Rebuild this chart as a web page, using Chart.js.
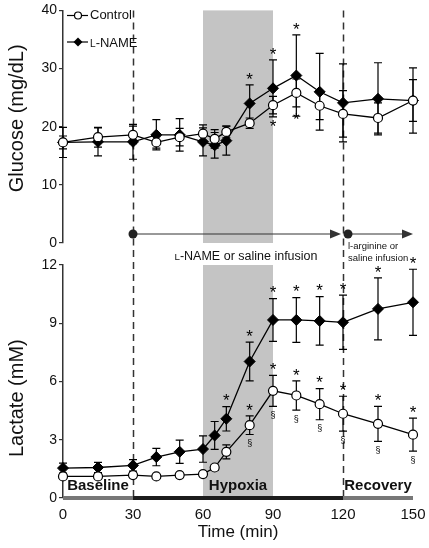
<!DOCTYPE html>
<html lang="en">
<head>
<meta charset="UTF-8">
<title>Glucose and lactate during hypoxia</title>
<script src="https://cdn.jsdelivr.net/npm/chart.js"></script>
<style>
  body { margin: 0; background: #fff; }
  #wrap { position: relative; width: 429px; height: 548px; }
  canvas { position: absolute; left: 0; }
</style>
</head>
<body>
<div id="wrap">
  <canvas id="glucose" width="429" height="270" style="top:0"></canvas>
  <canvas id="lactate" width="429" height="298" style="top:250px"></canvas>
</div>
<script>
// sampling times (min)
const times = [0, 15, 30, 40, 50, 60, 65, 70, 80, 90, 100, 110, 120, 135, 150];

// glucose (mg/dL), mean and SEM
const glucoseControl    = [17.3, 18.2, 18.6, 17.3, 18.2, 18.8, 17.9, 19.1, 20.6, 23.7, 25.8, 23.6, 22.2, 21.5, 24.5];
const glucoseControlSem = [1.1, 1.7, 1.5, 1.0, 1.5, 1.5, 1.6, 1.0, 0.9, 1.5, 2.4, 2.4, 4.0, 2.6, 3.6];
const glucoseLname      = [17.3, 17.4, 17.4, 18.6, 18.6, 17.4, 16.8, 17.6, 24.0, 26.6, 28.8, 26.0, 24.1, 24.8, 24.5];
const glucoseLnameSem   = [2.6, 2.4, 3.0, 2.6, 2.8, 2.4, 2.2, 2.5, 3.2, 4.9, 7.0, 6.6, 6.7, 6.2, 5.6];

// lactate (mM), mean and SEM
const lactateControl    = [1.11, 1.11, 1.18, 1.11, 1.18, 1.23, 1.57, 2.38, 3.75, 5.52, 5.28, 4.83, 4.34, 3.82, 3.26];
const lactateControlSem = [0.1, 0.1, 0.1, 0.08, 0.1, 0.1, 0.15, 0.36, 0.48, 0.8, 0.75, 0.8, 0.9, 0.9, 0.85];
const lactateLname      = [1.54, 1.57, 1.68, 2.11, 2.38, 2.52, 3.22, 4.08, 7.03, 9.17, 9.17, 9.12, 9.05, 9.74, 10.08];
const lactateLnameSem   = [0.26, 0.26, 0.3, 0.45, 0.6, 0.68, 0.72, 0.63, 1.0, 1.1, 1.15, 1.25, 1.4, 1.6, 1.7];

// significance marks (times where they appear)
const glucoseStarLname    = [80, 90, 100];
const glucoseStarControl  = [90, 100];
const lactateStarLname    = [70, 80, 90, 100, 110, 120, 135, 150];
const lactateStarControl  = [80, 90, 100, 110, 120, 135, 150];
const lactateSectControl  = [80, 90, 100, 110, 120, 135, 150];

// axes
const xTicks = [0, 30, 60, 90, 120, 150];
const glucoseTicks = [0, 10, 20, 30, 40];
const lactateTicks = [0, 3, 6, 9, 12];

// protocol
const hypoxia = [60, 90];
const infusionTimes = [30, 120, 150];
const phaseNames = ['Baseline', 'Hypoxia', 'Recovery'];
const phaseRanges = [[0, 30], [60, 90], [120, 150]];
const barBounds = [0, 30, 120, 150];

const FONT = '"Liberation Sans", Arial, Helvetica, sans-serif';

function pts(ys) {
  return times.map((t, i) => ({ x: t, y: ys[i] }));
}

const controlStyle = {
  label: 'Control', borderColor: '#000', borderWidth: 1.3,
  pointStyle: 'circle', pointRadius: 4.5, pointBackgroundColor: '#fff',
  pointBorderColor: '#000', pointBorderWidth: 1.2, clip: false
};
const lnameStyle = {
  label: 'L-NAME', borderColor: '#000', borderWidth: 1.3,
  pointStyle: 'rectRot', pointRadius: 5.5, pointBackgroundColor: '#000',
  pointBorderColor: '#000', pointBorderWidth: 1, clip: false
};

// writes "L-NAME..." with a small capital L
function smallCapsL(ctx, rest, x, y, size, align) {
  ctx.font = (size * 0.78) + 'px ' + FONT;
  const wl = ctx.measureText('L').width;
  ctx.font = size + 'px ' + FONT;
  const wr = ctx.measureText(rest).width;
  let x0 = x;
  if (align === 'center') x0 = x - (wl + wr) / 2;
  ctx.textAlign = 'left';
  ctx.textBaseline = 'alphabetic';
  ctx.font = (size * 0.78) + 'px ' + FONT;
  ctx.fillText('L', x0, y);
  ctx.font = size + 'px ' + FONT;
  ctx.fillText(rest, x0 + wl, y);
}

function shade(chart) {
  const { ctx, chartArea: a, scales: { x } } = chart;
  ctx.save();
  ctx.fillStyle = '#c4c4c4';
  const x0 = x.getPixelForValue(hypoxia[0]), x1 = x.getPixelForValue(hypoxia[1]);
  ctx.fillRect(x0, a.top, x1 - x0, a.bottom - a.top);
  ctx.restore();
}

function dashed(chart, y0, y1) {
  const { ctx, scales: { x } } = chart;
  ctx.save();
  ctx.strokeStyle = '#333';
  ctx.lineWidth = 1.5;
  ctx.setLineDash([7, 5]);
  [infusionTimes[0], infusionTimes[1]].forEach(t => {
    const px = Math.round(x.getPixelForValue(t)) + 0.5;
    ctx.beginPath();
    ctx.moveTo(px, y0);
    ctx.lineTo(px, y1);
    ctx.stroke();
  });
  ctx.restore();
}

function errorBars(chart) {
  const { ctx, scales: { x, y } } = chart;
  ctx.save();
  ctx.strokeStyle = '#000';
  ctx.lineWidth = 1.2;
  chart.data.datasets.forEach(ds => {
    ds.data.forEach((p, i) => {
      const px = x.getPixelForValue(p.x);
      const hi = y.getPixelForValue(p.y + ds.sem[i]);
      const lo = y.getPixelForValue(p.y - ds.sem[i]);
      ctx.beginPath();
      ctx.moveTo(px, hi); ctx.lineTo(px, lo);
      ctx.moveTo(px - 4, hi); ctx.lineTo(px + 4, hi);
      ctx.moveTo(px - 4, lo); ctx.lineTo(px + 4, lo);
      ctx.stroke();
    });
  });
  ctx.restore();
}

// glyph above the upper cap or below the lower cap
function marks(chart, dsIndex, when, side, glyph) {
  const { ctx, scales: { x, y } } = chart;
  const ds = chart.data.datasets[dsIndex];
  ctx.save();
  ctx.fillStyle = '#000';
  ctx.textAlign = 'center';
  ctx.textBaseline = 'middle';
  ctx.font = glyph === '*' ? '17px ' + FONT : '9px ' + FONT;
  when.forEach(t => {
    const i = times.indexOf(t);
    const px = x.getPixelForValue(t);
    let py;
    if (side === 'above') py = y.getPixelForValue(ds.data[i].y + ds.sem[i]) - 9;
    else py = y.getPixelForValue(ds.data[i].y - ds.sem[i]) + 9;
    // asterisk sits high in the em box
    const dy = glyph === '*' ? 4 : 0;
    ctx.fillText(glyph, px, py + dy);
  });
  ctx.restore();
}

function yAxis(ticks, max, title) {
  return {
    type: 'linear', min: 0, max: max,
    afterBuildTicks: s => { s.ticks = ticks.map(v => ({ value: v })); },
    afterFit: s => { s.width = 63; },
    grid: { drawOnChartArea: false, drawTicks: true, tickLength: 4, color: '#333', lineWidth: 1.2 },
    border: { display: true, color: '#333', width: 1.5 },
    ticks: { color: '#111', padding: 2, font: { family: FONT, size: 14 } },
    title: { display: true, text: title, color: '#111', padding: { top: 5, bottom: 0 },
             font: { family: FONT, size: 20 } }
  };
}

const glucosePlugin = {
  id: 'glucoseExtras',
  beforeDatasetsDraw(chart) {
    shade(chart);
    dashed(chart, chart.chartArea.top, 250);
    errorBars(chart);
  },
  afterDraw(chart) {
    const { ctx, scales: { x } } = chart;
    marks(chart, 1, glucoseStarLname, 'above', '*');
    marks(chart, 0, glucoseStarControl, 'below', '*');

    // legend
    ctx.save();
    ctx.strokeStyle = '#000';
    ctx.lineWidth = 1.2;
    [[15.5, 0], [42, 1]].forEach(([ly, k]) => {
      ctx.beginPath(); ctx.moveTo(67, ly); ctx.lineTo(88, ly); ctx.stroke();
      if (k === 0) {
        ctx.beginPath(); ctx.arc(78, ly, 3.5, 0, Math.PI * 2);
        ctx.fillStyle = '#fff'; ctx.fill(); ctx.stroke();
      } else {
        ctx.beginPath();
        ctx.moveTo(78, ly - 4.5); ctx.lineTo(82.5, ly); ctx.lineTo(78, ly + 4.5); ctx.lineTo(73.5, ly);
        ctx.closePath(); ctx.fillStyle = '#000'; ctx.fill();
      }
    });
    ctx.fillStyle = '#111';
    ctx.font = '13px ' + FONT;
    ctx.textAlign = 'left';
    ctx.textBaseline = 'middle';
    ctx.fillText('Control', 90, 15.5);
    smallCapsL(ctx, '-NAME', 90, 46.5, 13, 'left');

    // infusion arrows
    const ya = 234;
    const xa = x.getPixelForValue(infusionTimes[0]);
    const xb = x.getPixelForValue(infusionTimes[1]);
    const xc = x.getPixelForValue(infusionTimes[2]);
    const arrow = (from, to) => {
      ctx.strokeStyle = '#333'; ctx.fillStyle = '#333'; ctx.lineWidth = 1;
      ctx.beginPath(); ctx.moveTo(from, ya); ctx.lineTo(to - 8, ya); ctx.stroke();
      ctx.beginPath(); ctx.moveTo(to, ya); ctx.lineTo(to - 11, ya - 4.5); ctx.lineTo(to - 11, ya + 4.5);
      ctx.closePath(); ctx.fill();
    };
    arrow(xa, xb - 2);
    arrow(xb + 5, xc);
    ctx.fillStyle = '#222';
    ctx.beginPath(); ctx.arc(xa, ya, 4.5, 0, Math.PI * 2); ctx.fill();
    ctx.beginPath(); ctx.arc(xb + 5, ya, 4.5, 0, Math.PI * 2); ctx.fill();

    ctx.fillStyle = '#111';
    smallCapsL(ctx, '-NAME or saline infusion', (xa + xb) / 2 + 8, 260, 12.5, 'center');
    ctx.font = '9.5px ' + FONT;
    ctx.textAlign = 'left';
    ctx.textBaseline = 'alphabetic';
    ctx.fillText('l-arginine or', xb + 5, 249);
    ctx.fillText('saline infusion', xb + 5, 261);
    ctx.restore();
  }
};

const lactatePlugin = {
  id: 'lactateExtras',
  beforeDatasetsDraw(chart) {
    shade(chart);
    dashed(chart, 0, chart.chartArea.bottom);
    errorBars(chart);
  },
  afterDraw(chart) {
    const { ctx, chartArea: a, scales: { x } } = chart;
    marks(chart, 1, lactateStarLname, 'above', '*');
    marks(chart, 0, lactateStarControl, 'above', '*');
    marks(chart, 0, lactateSectControl, 'below', '§');

    // protocol bar on the time axis
    ctx.save();
    const colors = ['#777', '#1c1c1c', '#777'];
    ctx.lineWidth = 4;
    for (let k = 0; k < 3; k++) {
      ctx.strokeStyle = colors[k];
      ctx.beginPath();
      ctx.moveTo(x.getPixelForValue(barBounds[k]), a.bottom);
      ctx.lineTo(x.getPixelForValue(barBounds[k + 1]), a.bottom);
      ctx.stroke();
    }
    ctx.fillStyle = '#111';
    ctx.font = 'bold 15px ' + FONT;
    ctx.textAlign = 'center';
    ctx.textBaseline = 'middle';
    phaseNames.forEach((n, k) => {
      const cx = (x.getPixelForValue(phaseRanges[k][0]) + x.getPixelForValue(phaseRanges[k][1])) / 2;
      ctx.fillText(n, cx, a.bottom - 12.5);
    });
    ctx.restore();
  }
};

const common = {
  responsive: false,
  animation: false,
  plugins: { legend: { display: false }, tooltip: { enabled: false } }
};

new Chart(document.getElementById('glucose'), {
  type: 'line',
  data: {
    datasets: [
      Object.assign({ data: pts(glucoseControl), sem: glucoseControlSem }, controlStyle),
      Object.assign({ data: pts(glucoseLname), sem: glucoseLnameSem }, lnameStyle)
    ]
  },
  options: Object.assign({}, common, {
    layout: { autoPadding: false, padding: { left: 0, right: 16, top: 10, bottom: 27 } },
    scales: {
      x: { type: 'linear', min: 0, max: 150, display: false },
      // leading spaces lift the rotated title a little, as in the original
      y: yAxis(glucoseTicks, 40, '   Glucose (mg/dL)')
    }
  }),
  plugins: [glucosePlugin]
});

new Chart(document.getElementById('lactate'), {
  type: 'line',
  data: {
    datasets: [
      Object.assign({ data: pts(lactateControl), sem: lactateControlSem }, controlStyle),
      Object.assign({ data: pts(lactateLname), sem: lactateLnameSem }, lnameStyle)
    ]
  },
  options: Object.assign({}, common, {
    layout: { autoPadding: false, padding: { left: 0, right: 16, top: 15, bottom: 0 } },
    scales: {
      x: {
        type: 'linear', min: 0, max: 150,
        afterBuildTicks: s => { s.ticks = xTicks.map(v => ({ value: v })); },
        afterFit: s => { s.height = 50; },
        grid: { display: false },
        border: { display: false },
        ticks: { color: '#111', padding: 0, font: { family: FONT, size: 15 } },
        title: { display: true, text: 'Time (min)', color: '#111', padding: { top: 0, bottom: 5 },
                 font: { family: FONT, size: 17 } }
      },
      // trailing spaces push the rotated title down
      y: yAxis(lactateTicks, 12, 'Lactate (mM)      ')
    }
  }),
  plugins: [lactatePlugin]
});
</script>
</body>
</html>
